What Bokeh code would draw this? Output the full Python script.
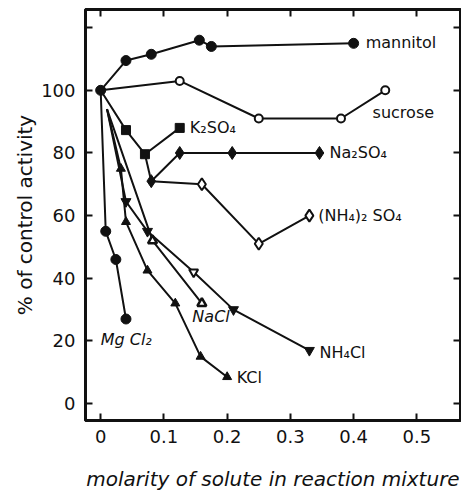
from bokeh.plotting import figure
from bokeh.models import Range1d, LinearAxis, FixedTicker
from bokeh.core.properties import value
from bokeh.embed import file_html
from bokeh.resources import INLINE

# ---- data ----
mannitol_x = [0, 0.04, 0.08, 0.156, 0.175, 0.40]
mannitol_y = [100, 109.5, 111.5, 116, 114, 115]

sucrose_x = [0, 0.125, 0.25, 0.38, 0.45]
sucrose_y = [100, 103, 91, 91, 100]

k2so4_x = [0, 0.04, 0.07, 0.125]
k2so4_y = [100, 87.3, 79.6, 88]

na2so4_x = [0.08, 0.125, 0.208, 0.346]
na2so4_y = [71, 80, 80, 80]

nh42so4_x = [0.16, 0.25, 0.33]
nh42so4_y = [70, 51, 60]

chloride_start_x = [0.01]
chloride_start_y = [94]

kcl_x = [0.032, 0.04, 0.074, 0.118, 0.158, 0.2]
kcl_y = [75, 58, 42.5, 32, 15, 8.5]

nh4cl_x = [0.04, 0.074, 0.147, 0.21, 0.33]
nh4cl_y = [64.5, 55, 42, 30, 17]

nacl_x = [0.082, 0.16]
nacl_y = [52, 32]

mgcl2_x = [0, 0.008, 0.024, 0.04]
mgcl2_y = [100, 55, 46, 27]

x_ticks = [0, 0.1, 0.2, 0.3, 0.4, 0.5]
x_tick_labels = ["0", "0.1", "0.2", "0.3", "0.4", "0.5"]
y_ticks = [0, 20, 40, 60, 80, 100, 120]
y_tick_labels = ["0", "20", "40", "60", "80", "100", ""]

labels = ["mannitol", "sucrose", "K\u2082SO\u2084", "Na\u2082SO\u2084",
          "(NH\u2084)\u2082 SO\u2084", "NH\u2084Cl", "KCl"]
label_x = [0.419, 0.43, 0.141, 0.362, 0.344, 0.346, 0.215]
label_y = [115.3, 93, 88, 80, 60.2, 16.2, 8.3]

italic_labels = ["Mg Cl\u2082", "NaCl"]
italic_x = [0.0, 0.145]
italic_y = [20.4, 27.7]

FONT = "DejaVu Sans"
BLACK = "#111111"

p = figure(width=461, height=493, output_backend="svg", toolbar_location=None,
           x_range=Range1d(-0.024, 0.569), y_range=Range1d(-5.4, 125.8),
           min_border_left=85, min_border_right=1, min_border_top=9,
           min_border_bottom=72)
p.background_fill_color = "white"
p.border_fill_color = "white"
p.grid.visible = False
p.outline_line_color = BLACK
p.outline_line_width = 3

# axes
for ax in (p.xaxis[0], p.yaxis[0]):
    ax.axis_line_width = 3
    ax.axis_line_color = BLACK
    ax.major_tick_in = 7
    ax.major_tick_out = 0
    ax.major_tick_line_width = 2
    ax.major_tick_line_color = BLACK
    ax.minor_tick_line_color = None
    ax.major_label_text_font = FONT
    ax.major_label_text_font_size = "18px"
    ax.major_label_text_color = BLACK
    ax.axis_label_text_font = FONT
    ax.axis_label_text_color = BLACK

p.xaxis[0].ticker = FixedTicker(ticks=x_ticks)
p.xaxis[0].major_label_overrides = {t: l for t, l in zip(x_ticks, x_tick_labels)}
p.xaxis[0].major_label_standoff = 9
p.xaxis[0].axis_label = "molarity of solute in reaction mixture"
p.xaxis[0].axis_label_text_font_style = "italic"
p.xaxis[0].axis_label_text_font_size = "20px"
p.xaxis[0].axis_label_standoff = 21

p.yaxis[0].ticker = FixedTicker(ticks=y_ticks)
p.yaxis[0].major_label_overrides = {t: l for t, l in zip(y_ticks, y_tick_labels)}
p.yaxis[0].major_label_standoff = 10
p.yaxis[0].axis_label = "% of control activity"
p.yaxis[0].axis_label_text_font_style = "normal"
p.yaxis[0].axis_label_text_font_size = "20px"
p.yaxis[0].axis_label_standoff = 1

top = LinearAxis(ticker=FixedTicker(ticks=x_ticks), major_tick_in=7, major_tick_out=0,
                 major_tick_line_width=2, major_tick_line_color=BLACK,
                 minor_tick_line_color=None, axis_line_color=BLACK, axis_line_width=3,
                 major_label_text_font_size="0px", major_label_standoff=0)
top.major_label_overrides = {t: "" for t in x_ticks}
p.add_layout(top, "above")
right = LinearAxis(ticker=FixedTicker(ticks=y_ticks), major_tick_in=7, major_tick_out=0,
                   major_tick_line_width=2, major_tick_line_color=BLACK,
                   minor_tick_line_color=None, axis_line_color=BLACK, axis_line_width=2,
                   major_label_text_font_size="0px", major_label_standoff=0)
right.major_label_overrides = {t: "" for t in y_ticks}
p.add_layout(right, "right")

LW = 2
# lines
p.line(mannitol_x, mannitol_y, line_color=BLACK, line_width=LW)
p.line(sucrose_x, sucrose_y, line_color=BLACK, line_width=LW)
p.line(k2so4_x, k2so4_y, line_color=BLACK, line_width=LW)
p.line([k2so4_x[2], na2so4_x[0]], [k2so4_y[2], na2so4_y[0]], line_color=BLACK, line_width=LW)
p.line(na2so4_x, na2so4_y, line_color=BLACK, line_width=LW)
p.line([na2so4_x[0]] + nh42so4_x, [na2so4_y[0]] + nh42so4_y, line_color=BLACK, line_width=LW)
p.line(chloride_start_x + kcl_x, chloride_start_y + kcl_y, line_color=BLACK, line_width=LW)
p.line(chloride_start_x + nh4cl_x, chloride_start_y + nh4cl_y, line_color=BLACK, line_width=LW)
p.line(chloride_start_x + nacl_x, chloride_start_y + nacl_y, line_color=BLACK, line_width=LW)
p.line(mgcl2_x, mgcl2_y, line_color=BLACK, line_width=LW)

# markers
p.scatter(mannitol_x, mannitol_y, marker="circle", size=10, fill_color=BLACK, line_color=BLACK)
p.scatter(sucrose_x[1:], sucrose_y[1:], marker="circle", size=8, fill_color="white",
          line_color=BLACK, line_width=2)
p.scatter(k2so4_x[1:], k2so4_y[1:], marker="square", size=9, fill_color=BLACK, line_color=BLACK)
p.scatter(na2so4_x, na2so4_y, marker="diamond", size=13, fill_color=BLACK, line_color=BLACK)
p.scatter(nh42so4_x, nh42so4_y, marker="diamond", size=12, fill_color="white",
          line_color=BLACK, line_width=2)
p.scatter(kcl_x, kcl_y, marker="triangle", size=9, fill_color=BLACK, line_color=BLACK)
p.scatter([nh4cl_x[i] for i in (0, 1, 3, 4)], [nh4cl_y[i] for i in (0, 1, 3, 4)],
          marker="inverted_triangle", size=10, fill_color=BLACK, line_color=BLACK)
p.scatter([nh4cl_x[2]], [nh4cl_y[2]], marker="inverted_triangle", size=9,
          fill_color="white", line_color=BLACK, line_width=2)
p.scatter(nacl_x, nacl_y, marker="triangle", size=9, fill_color="white",
          line_color=BLACK, line_width=2.5)
p.scatter(mgcl2_x[1:], mgcl2_y[1:], marker="circle", size=10, fill_color=BLACK, line_color=BLACK)

# series labels
p.text(label_x, label_y, text=labels, text_font=value(FONT), text_font_size="16px",
       text_color=BLACK, text_align="left", text_baseline="middle")
p.text(italic_x, italic_y, text=italic_labels, text_font=value(FONT), text_font_size="16px",
       text_font_style="italic", text_color=BLACK, text_align="left", text_baseline="middle")

open("out.html", "w").write(file_html(p, INLINE))
